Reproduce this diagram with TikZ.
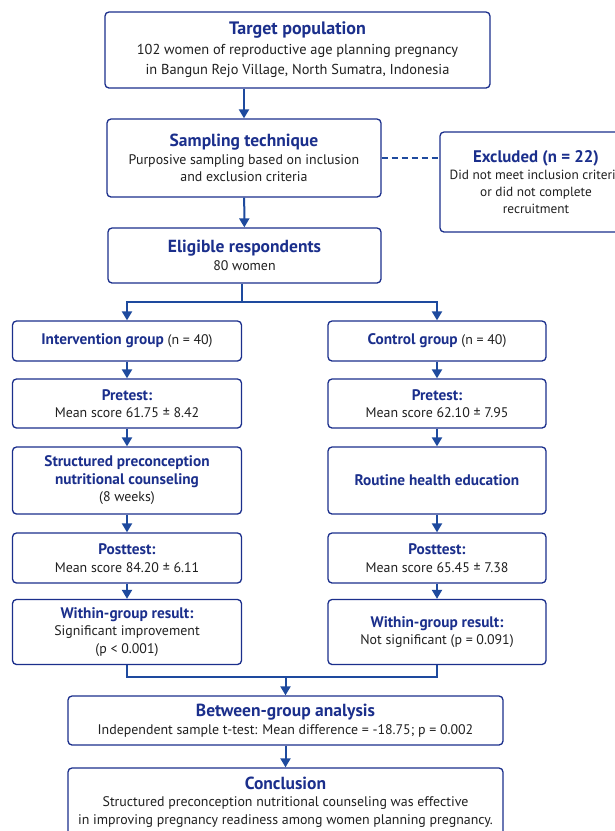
\documentclass[tikz,border=0pt]{standalone}
\usepackage{fontspec}
\setmainfont{PT Sans}
\usetikzlibrary{arrows.meta}

\definecolor{navy}{HTML}{1B2F8C}
\definecolor{linkblue}{HTML}{1E4A9E}
\definecolor{bodytext}{HTML}{202020}

\newcommand{\mainhd}[1]{{\fontsize{17.5}{21}\selectfont\bfseries\color{navy}#1}}
\newcommand{\subhd}[1]{{\fontsize{15.3}{18}\selectfont\bfseries\color{navy}#1}}

\tikzset{
  box/.style={draw=navy, line width=1.3pt, rounded corners=4pt, fill=white,
    align=center, text=bodytext, inner sep=2pt,
    font=\fontsize{13.9}{17.5}\selectfont},
  link/.style={draw=linkblue, line width=2pt},
  arrow/.style={link, -{Triangle[length=9pt,width=10pt]}}
}

\begin{document}
\begin{tikzpicture}[x=1pt,y=-1pt]
  \useasboundingbox[fill=white] (0,0) rectangle (614,831);
  % recruitment
  \node[box, minimum width=385, minimum height=76, font=\fontsize{14.4}{20}\selectfont] (target) at (297.5,50)
    {{\fontsize{18}{21}\selectfont\bfseries\color{navy}Target population}\\102 women of reproductive age planning pregnancy\\in Bangun Rejo Village, North Sumatra, Indonesia};
  \node[box, minimum width=274, minimum height=78] (sampling) at (244,158)
    {\mainhd{Sampling technique}\\Purposive sampling based on inclusion\\and exclusion criteria};
  \node[box, minimum width=192, minimum height=100, font=\fontsize{13.3}{17}\selectfont] (excluded) at (536,182)
    {{\fontsize{16.8}{21}\selectfont\bfseries\color{navy}Excluded (n = 22)}\\Did not meet inclusion criteria\\or did not complete\\recruitment};
  \node[box, minimum width=273, minimum height=55] (eligible) at (244.5,255.5)
    {\mainhd{Eligible respondents}\\80 women};
  % intervention arm
  \node[box, minimum width=229, minimum height=40] (interv) at (127,341)
    {\subhd{Intervention group} (n = 40)};
  \node[box, minimum width=229, minimum height=49] (pre1) at (127,403.5)
    {\subhd{Pretest:}\\Mean score 61.75 ± 8.42};
  \node[box, minimum width=229, minimum height=67] (counsel) at (127,480.5)
    {\subhd{Structured preconception}\\\subhd{nutritional counseling}\\(8 weeks)};
  \node[box, minimum width=229, minimum height=50] (post1) at (127,558)
    {\subhd{Posttest:}\\Mean score 84.20 ± 6.11};
  \node[box, minimum width=229, minimum height=65] (within1) at (127,632)
    {\subhd{Within-group result:}\\Significant improvement\\(p < 0.001)};
  % control arm
  \node[box, minimum width=218, minimum height=40] (control) at (437,341)
    {\subhd{Control group} (n = 40)};
  \node[box, minimum width=218, minimum height=49] (pre2) at (437,403.5)
    {\subhd{Pretest:}\\Mean score 62.10 ± 7.95};
  \node[box, minimum width=218, minimum height=67] (routine) at (437,480.5)
    {\subhd{Routine health education}};
  \node[box, minimum width=218, minimum height=50] (post2) at (437,558)
    {\subhd{Posttest:}\\Mean score 65.45 ± 7.38};
  \node[box, minimum width=218, minimum height=65] (within2) at (437,632)
    {\subhd{Within-group result:}\\Not significant (p = 0.091)};
  % analysis
  \node[box, minimum width=435, minimum height=49] (between) at (285.5,720.5)
    {\mainhd{Between-group analysis}\\Independent sample t-test: Mean difference = -18.75; p = 0.002};
  \node[box, minimum width=435, minimum height=68] (concl) at (285.5,802)
    {\mainhd{Conclusion}\\Structured preconception nutritional counseling was effective\\in improving pregnancy readiness among women planning pregnancy.};

  \coordinate (split) at (242,302);
  \coordinate (join) at (285.5,677);

  \draw[arrow] (sampling.north |- target.south) -- (sampling.north);
  \draw[arrow] (sampling) -- (eligible);
  \draw[link, dashed, dash pattern=on 6pt off 4pt] (sampling.east) -- (sampling.east -| excluded.west);
  \draw[link] (eligible.south -| split) -- (split);
  \draw[arrow] (split) -| (interv);
  \draw[arrow] (split) -| (control);
  \draw[arrow] (interv) -- (pre1);
  \draw[arrow] (pre1) -- (counsel);
  \draw[arrow] (counsel) -- (post1);
  \draw[arrow] (post1) -- (within1);
  \draw[arrow] (control) -- (pre2);
  \draw[arrow] (pre2) -- (routine);
  \draw[arrow] (routine) -- (post2);
  \draw[arrow] (post2) -- (within2);
  \draw[link] (within1) |- (join);
  \draw[link] (within2) |- (join);
  \draw[arrow] (join) -- (between);
  \draw[arrow] (between) -- (concl);
\end{tikzpicture}
\end{document}
